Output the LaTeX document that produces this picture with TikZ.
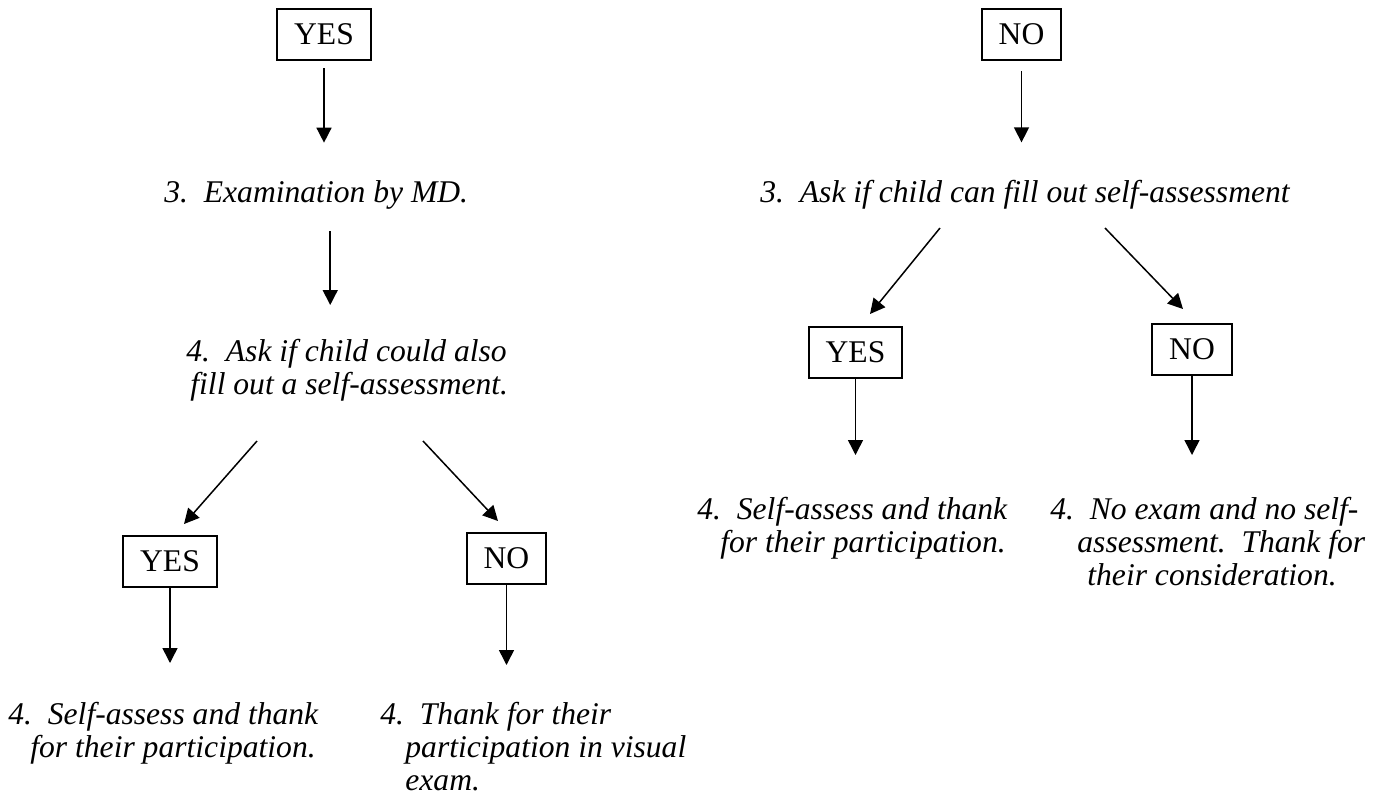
\documentclass[tikz,border=0pt]{standalone}
\usepackage{fontspec}
\setmainfont{Liberation Serif}
\usetikzlibrary{arrows.meta,positioning}
\newcommand{\flowsize}{\fontsize{15.8}{16.5}\selectfont}
\tikzset{
  answer/.style={draw, line width=1pt, minimum height=25.5pt, inner xsep=8.5pt, inner ysep=0pt, font=\flowsize\upshape},
  stage/.style={inner sep=0pt, align=left, font=\flowsize\itshape},
  flow/.style={-{Triangle[length=7.5pt,width=7.5pt]}, line width=0.75pt}
}
\newcommand{\stepno}[1]{#1.\hspace{0.5em}}

\begin{document}
\begin{tikzpicture}[x=0.5pt, y=-0.5pt]
  \useasboundingbox (0,0) rectangle (1398,804);
  \node[answer] (yesA) at (324,34.5) {YES};
  \node[stage, anchor=base west] (exam) at (164,202) {\stepno{3}Examination by MD.};
  \node[stage, anchor=north west] (askL) at (186,339) {\stepno{4}Ask if child could also\\\hspace*{2pt}fill out a self-assessment.};
  \node[answer] (yesB) at (170,561.5) {YES};
  \node[answer] (noB) at (506.5,558.5) {NO};
  \node[stage, anchor=north west] (selfL) at (8,702) {\stepno{4}Self-assess and thank\\\hspace*{11pt}for their participation.};
  \node[stage, anchor=north west] (thankL) at (380,702) {\stepno{4}Thank for their\\\hspace*{12.5pt}participation in visual\\\hspace*{12.5pt}exam.};
  \node[answer] (noA) at (1021.5,34.5) {NO};
  \node[stage, anchor=base west] (askR) at (760,202) {\stepno{3}Ask if child can fill out self-assessment};
  \node[answer] (yesC) at (855.5,352.5) {YES};
  \node[answer] (noC) at (1192,349.5) {NO};
  \node[stage, anchor=north west] (selfR) at (697,497) {\stepno{4}Self-assess and thank\\\hspace*{11.5pt}for their participation.};
  \node[stage, anchor=north west] (noneR) at (1050,497) {\stepno{4}No exam and no self-\\\hspace*{13.5pt}assessment.\ \ Thank for\\\hspace*{18.5pt}their consideration.};

  \draw[flow, shorten <=3.5pt, shorten >=18.5pt] (yesA) -- (yesA |- exam.north);
  \draw[flow, shorten <=14.5pt, shorten >=17pt] ([xshift=7pt]exam.base) -- ([xshift=7pt]exam.base |- askL.north);
  \draw[flow] ([shift={(71,102)}]askL.north west) -- ([shift={(14,-11)}]yesB.north);
  \draw[flow] ([shift={(237,102)}]askL.north west) -- ([shift={(-8.5,-11)}]noB.north);
  \draw[flow, shorten >=19.5pt] (yesB) -- (yesB |- selfL.north);
  \draw[flow, shorten >=18.5pt] (noB) -- (noB |- thankL.north);
  \draw[flow, shorten <=5pt, shorten >=18.5pt] (noA) -- (noA |- askR.north);
  \draw[flow] ([shift={(180,26)}]askR.base west) -- ([shift={(14.5,-12)}]yesC.north);
  \draw[flow] ([shift={(345,26)}]askR.base west) -- ([shift={(-9,-14)}]noC.north);
  \draw[flow, shorten >=21pt] (yesC) -- (yesC |- selfR.north);
  \draw[flow, shorten >=21pt] (noC) -- (noC |- noneR.north);
\end{tikzpicture}
\end{document}
